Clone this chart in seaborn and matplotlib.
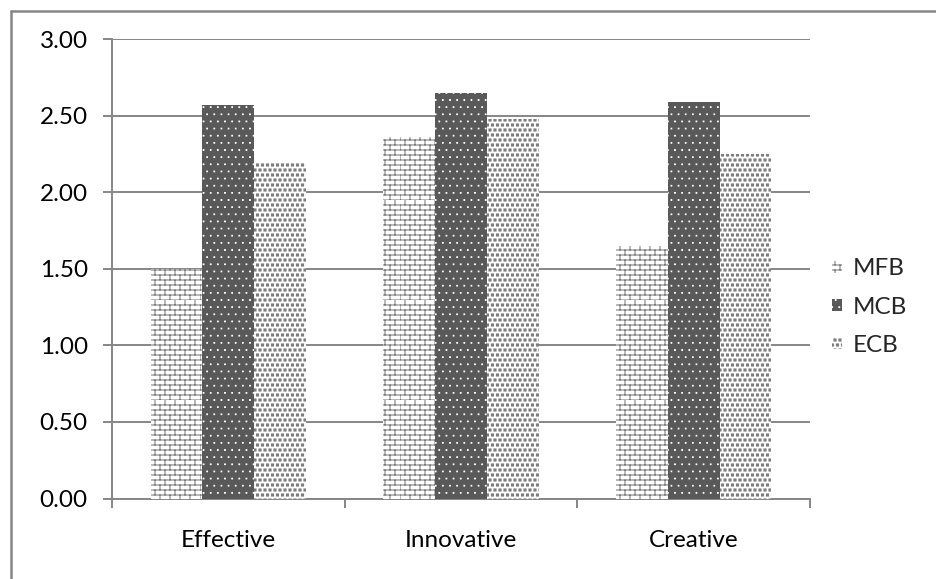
import warnings
import numpy as np
import pandas as pd
import matplotlib
matplotlib.use("Agg")
import matplotlib.pyplot as plt
import matplotlib.hatch as mhatch
from matplotlib.path import Path
from matplotlib.patches import Patch
from matplotlib.lines import Line2D
import seaborn as sns

warnings.filterwarnings("ignore")

categories = ["Effective", "Innovative", "Creative"]
series = ["MFB", "MCB", "ECB"]
mfb = [1.50, 2.36, 1.65]
mcb = [2.57, 2.65, 2.59]
ecb = [2.20, 2.48, 2.25]
yticks = [0.00, 0.50, 1.00, 1.50, 2.00, 2.50, 3.00]


# ---- custom fill patterns (hatch unit cell = 1 inch) ----
class BrickHatch(mhatch.HatchPatternBase):
    rows, cols = 20, 10

    def __init__(self, hatch, density):
        self.on = "b" in hatch
        self.num_vertices = (self.rows * 2 + self.rows * self.cols * 2) if self.on else 0

    def set_vertices_and_codes(self, vertices, codes):
        k = 0
        for i in range(self.rows):
            y = i / self.rows
            vertices[k] = (0.0, y); codes[k] = Path.MOVETO; k += 1
            vertices[k] = (1.0, y); codes[k] = Path.LINETO; k += 1
        for i in range(self.rows):
            y0, y1 = i / self.rows, (i + 1) / self.rows
            off = 0.5 / self.cols if i % 2 else 0.0
            for j in range(self.cols):
                x = j / self.cols + off
                vertices[k] = (x, y0); codes[k] = Path.MOVETO; k += 1
                vertices[k] = (x, y1); codes[k] = Path.LINETO; k += 1


class SquareDotHatch(mhatch.HatchPatternBase):
    def __init__(self, hatch, density):
        self.char = None
        for c, (n, s) in {"q": (20, 0.021), "d": (14, 0.007)}.items():
            if c in hatch:
                self.char, self.n, self.s = c, n, s
        if self.char is None:
            self.num_vertices = 0
            return
        pts = []
        for i in range(self.n + 1):
            off = 0.5 / self.n if i % 2 else 0.0
            for j in range(self.n + 1):
                pts.append((j / self.n + off, i / self.n))
        self.pts = pts
        self.num_vertices = len(pts) * 5

    def set_vertices_and_codes(self, vertices, codes):
        s = self.s / 2
        k = 0
        for (x, y) in self.pts:
            sq = [(x - s, y - s), (x + s, y - s), (x + s, y + s), (x - s, y + s), (x - s, y - s)]
            cd = [Path.MOVETO, Path.LINETO, Path.LINETO, Path.LINETO, Path.CLOSEPOLY]
            for v, c in zip(sq, cd):
                vertices[k] = v; codes[k] = c; k += 1


mhatch._hatch_types.extend([BrickHatch, SquareDotHatch])

sns.set_theme(style="white")
plt.rcParams["font.family"] = ["Lato", "DejaVu Sans"]
plt.rcParams["hatch.linewidth"] = 0.75

GRID = "#868686"
FS = 17.5
styles = {
    "MFB": dict(face="white", hatch="b", hcolor="#7a7a7a"),
    "MCB": dict(face="#595959", hatch="d", hcolor="white"),
    "ECB": dict(face="white", hatch="q", hcolor="#7d7d7d"),
}

df = pd.DataFrame({
    "category": np.repeat(categories, len(series)),
    "series": series * len(categories),
    "value": np.ravel(np.column_stack([mfb, mcb, ecb])),
})

fig = plt.figure(figsize=(9.36, 5.79), dpi=100, facecolor="white")
ax = fig.add_axes([112 / 936, (579 - 498.5) / 579, (810 - 112) / 936, (498.5 - 39) / 579])

sns.barplot(data=df, x="category", y="value", hue="series", order=categories,
            hue_order=series, width=0.667, dodge=True, gap=0, errorbar=None,
            legend=False, ax=ax, zorder=3)

for cont, name in zip(ax.containers, series):
    st = styles[name]
    for bar in cont:
        bar.set_facecolor(st["face"])
        bar.set_edgecolor(st["hcolor"])
        bar.set_hatch(st["hatch"])
        bar.set_linewidth(0)

ax.set_ylim(0, 3.0)
ax.set_xlim(-0.5, 2.5)
ax.set_yticks(yticks)
ax.set_yticklabels([f"{t:.2f}" for t in yticks])
ax.yaxis.grid(True, color=GRID, linewidth=1.4, zorder=0)
ax.set_axisbelow(True)
ax.set_xlabel("")
ax.set_ylabel("")

for side in ["top", "right"]:
    ax.spines[side].set_visible(False)
for side in ["left", "bottom"]:
    ax.spines[side].set_color(GRID)
    ax.spines[side].set_linewidth(1.4)

ax.tick_params(axis="y", which="major", left=True, length=6.5, width=1.4, color=GRID,
               pad=11, labelsize=FS, labelcolor="black")
ax.set_xticks([-0.5, 0.5, 1.5, 2.5], minor=True)
ax.tick_params(axis="x", which="minor", bottom=True, length=6.5, width=1.4, color=GRID)
ax.tick_params(axis="x", which="major", bottom=False, length=0, pad=23,
               labelsize=FS, labelcolor="black")

handles = [Patch(facecolor=styles[s]["face"], edgecolor=styles[s]["hcolor"],
                 hatch=styles[s]["hatch"], linewidth=0) for s in series]
fig.legend(handles, series, loc="center left", bbox_to_anchor=(832 / 936, 1 - 307 / 579),
           frameon=False, fontsize=FS, handlelength=0.42, handleheight=0.42,
           handletextpad=0.45, labelspacing=0.7, borderpad=0, borderaxespad=0)

# outer chart frame (left and top edges)
fig.add_artist(Line2D([11 / 936, 11 / 936], [0, 1 - 11 / 579], transform=fig.transFigure,
                      color=GRID, linewidth=1.8))
fig.add_artist(Line2D([11 / 936, 1], [1 - 11 / 579, 1 - 11 / 579], transform=fig.transFigure,
                      color=GRID, linewidth=1.8))

fig.savefig("out.png", dpi=100, facecolor="white")
